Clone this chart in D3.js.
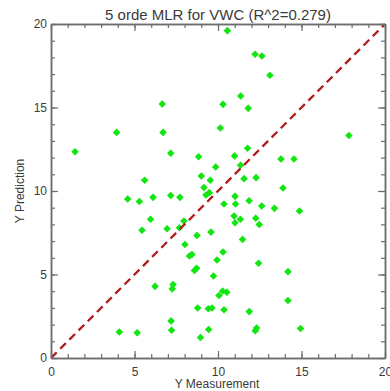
<!DOCTYPE html>
<html><head><meta charset="utf-8">
<script src="https://cdn.jsdelivr.net/npm/d3@7"></script>
<style>html,body{margin:0;padding:0;background:#fff;}svg{display:block;}</style>
</head><body>
<script>
const title = "5 orde MLR for VWC (R^2=0.279)";
const xLabel = "Y Measurement";
const yLabel = "Y Prediction";
const majorTicks = [0, 5, 10, 15, 20];
const minorTicks = d3.range(0, 21, 1);
const measured = [
 1.44,3.93,6.66,6.71,7.17,8.84,9.00,5.61,9.54,9.16,9.86,10.56,12.22,12.63,13.11,11.36,10.30,11.81,10.14,17.84,11.77,10.99,13.77,14.55,11.35,11.56,12.28,13.89,
 4.59,5.29,6.11,7.17,7.72,9.28,9.48,5.96,5.45,6.95,7.69,7.96,8.74,9.58,8.02,8.29,8.44,8.72,8.59,9.73,9.94,10.30,11.47,11.02,10.36,11.05,11.86,12.62,13.38,14.88,10.96,11.34,11.02,12.26,12.47,
 6.23,7.31,7.26,8.78,9.42,9.64,7.19,7.22,4.09,5.16,8.95,9.44,10.06,10.28,10.53,10.36,11.87,12.43,14.19,14.19,12.31,12.23,14.94
];
const predicted = [
 12.35,13.51,15.21,13.51,12.26,12.05,10.90,10.64,10.64,10.21,11.44,19.60,18.19,18.08,16.93,15.69,15.19,14.95,13.77,13.32,12.56,12.10,11.92,11.92,11.54,10.74,10.80,10.18,
 9.52,9.37,9.62,9.73,9.62,9.76,9.90,8.31,7.65,7.74,7.80,8.20,7.34,7.54,6.80,6.11,6.20,5.37,5.24,4.91,5.87,6.35,7.10,9.68,9.22,9.22,9.42,9.10,8.96,8.80,8.50,8.31,8.10,8.37,7.99,
 4.29,4.40,4.14,2.99,2.95,2.99,2.22,1.66,1.56,1.51,1.23,1.71,3.74,4.01,3.94,2.89,2.78,5.67,5.17,3.44,1.80,1.63,1.77
];
const oneToOne = [[0,0],[20,20]];

const W = 390, H = 391;
const m = {left: 51, right: 5, top: 24, bottom: 33};
const svg = d3.select("body").append("svg").attr("width", W).attr("height", H);
const x = d3.scaleLinear().domain([0,20]).range([m.left, W - m.right]);
const y = d3.scaleLinear().domain([0,20]).range([H - m.bottom, m.top]);
const frameCol = "#6e6e6e", textCol = "#3a3a3a";
const font = "'Liberation Sans', Arial, sans-serif";

// points (diamonds)
svg.append("g").selectAll("path").data(measured.map((v,i)=>[v,predicted[i]]))
  .enter().append("path")
  .attr("transform", d => `translate(${x(d[0])},${y(d[1])}) rotate(45)`)
  .attr("d", d3.symbol().type(d3.symbolSquare).size(29))
  .attr("fill", "#11e611");

// 1:1 line
svg.append("path").datum(oneToOne)
  .attr("d", d3.line().x(d=>x(d[0])).y(d=>y(d[1])))
  .attr("stroke", "#b01c1c").attr("stroke-width", 2.3)
  .attr("stroke-dasharray", "8,5").attr("fill", "none");

function addAxis(axisGen, tr){
  const g = svg.append("g").attr("transform", tr).call(axisGen);
  g.selectAll("path.domain").attr("stroke", frameCol).attr("stroke-width", 1.5);
  g.selectAll(".tick line").attr("stroke", frameCol).attr("stroke-width", 1.2);
  g.selectAll("text").attr("fill", textCol).attr("font-family", font).attr("font-size", 12);
  return g;
}
const yB = H - m.bottom, yT = m.top, xL = m.left, xR = W - m.right;
// minor
addAxis(d3.axisBottom(x).tickValues(minorTicks).tickSize(-4).tickFormat("").tickSizeOuter(0), `translate(0,${yB})`);
addAxis(d3.axisTop(x).tickValues(minorTicks).tickSize(-4).tickFormat("").tickSizeOuter(0), `translate(0,${yT})`);
addAxis(d3.axisLeft(y).tickValues(minorTicks).tickSize(-4).tickFormat("").tickSizeOuter(0), `translate(${xL},0)`);
addAxis(d3.axisRight(y).tickValues(minorTicks).tickSize(-4).tickFormat("").tickSizeOuter(0), `translate(${xR},0)`);
// major
addAxis(d3.axisBottom(x).tickValues(majorTicks).tickSize(-7).tickSizeOuter(0).tickPadding(9), `translate(0,${yB})`);
addAxis(d3.axisTop(x).tickValues(majorTicks).tickSize(-7).tickFormat("").tickSizeOuter(0), `translate(0,${yT})`);
addAxis(d3.axisLeft(y).tickValues(majorTicks).tickSize(-7).tickSizeOuter(0).tickPadding(4), `translate(${xL},0)`);
addAxis(d3.axisRight(y).tickValues(majorTicks).tickSize(-7).tickFormat("").tickSizeOuter(0), `translate(${xR},0)`);

svg.append("text").attr("x", 218).attr("y", 19.5).attr("text-anchor","middle")
  .attr("font-family", font).attr("font-size", 15).attr("fill", textCol).text(title);
svg.append("text").attr("x", 217).attr("y", 388).attr("text-anchor","middle")
  .attr("font-family", font).attr("font-size", 12).attr("fill", textCol).text(xLabel);
svg.append("text").attr("transform", `translate(24,${(yT+yB)/2}) rotate(-90)`).attr("text-anchor","middle")
  .attr("font-family", font).attr("font-size", 12).attr("fill", textCol).text(yLabel);
</script>
</body></html>
